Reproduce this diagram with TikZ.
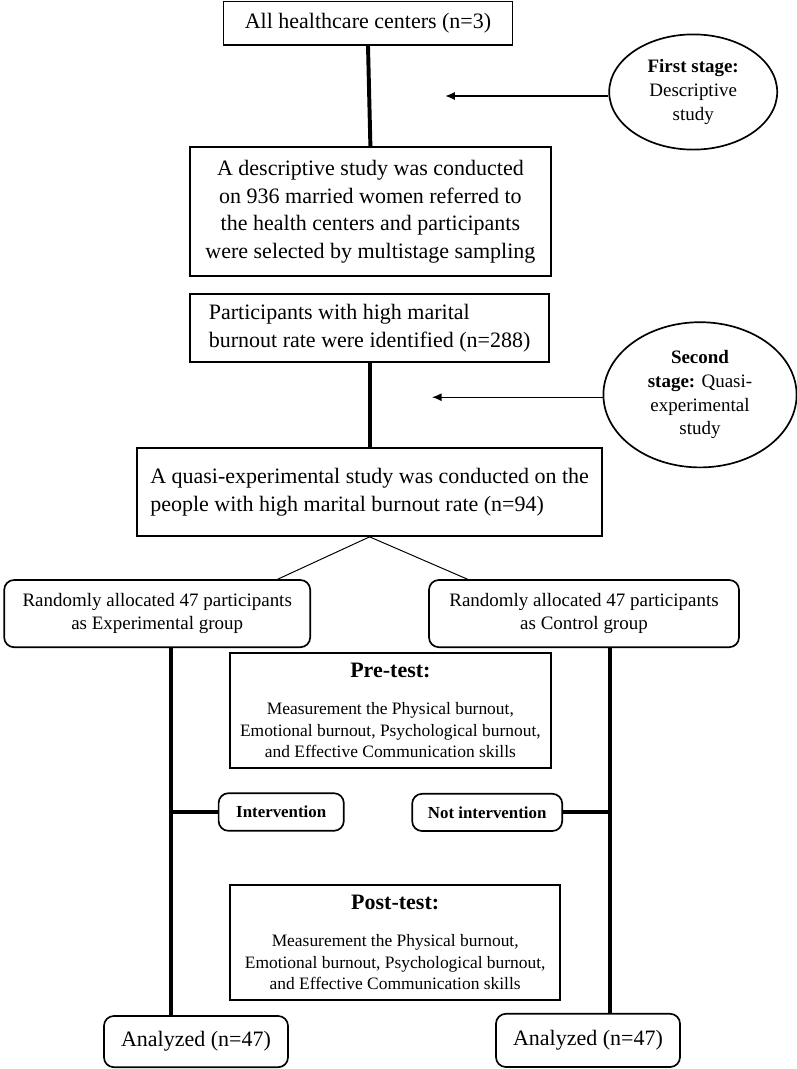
\documentclass[tikz,border=0pt]{standalone}
\usepackage{fontspec}
\setmainfont{Liberation Serif}
\usepackage{tikz}
\usetikzlibrary{shapes,arrows,positioning,calc,arrows.meta}

\begin{document}
\begin{tikzpicture}[
    box/.style={draw, line width=1.2pt, align=center, inner sep=2pt, font=\fontsize{15.65}{19.6}\selectfont},
    rbox/.style={draw, line width=1.2pt, rounded corners=7pt, align=center, inner sep=2pt, font=\fontsize{13.5}{16.7}\selectfont},
    stage/.style={draw, ellipse, line width=1.2pt, align=center, inner sep=0pt, font=\fontsize{13.5}{16.9}\selectfont},
    testbox/.style={draw, line width=1.2pt, align=center, inner sep=2pt, font=\fontsize{12.4}{15.3}\selectfont},
    trunk/.style={line width=2.8pt},
    pointer/.style={line width=0.9pt, -{Latex[length=2.4mm,width=2mm]}}
]
    \useasboundingbox (0,0) rectangle (19.925,-26.725);
    % First stage
    \node[box, minimum width=7.22cm, minimum height=1.08cm] (centers) at (9.2,-0.58) {All healthcare centers (n=3)};
    \node[box, minimum width=9.03cm, minimum height=3.22cm] (descr) at (9.26,-5.29) {A descriptive study was conducted\\ on 936 married women referred to\\ the health centers and participants\\ were selected by multistage sampling};
    \node[stage, minimum width=4.2cm, minimum height=2.88cm] (stage1) at (17.33,-2.3) {\textbf{First stage:}\\ Descriptive\\ study};
    \coordinate (tip1) at (11.13,-2.4);
    \draw[trunk] (centers.south) -- (descr.north);
    \draw[pointer] (stage1.west |- tip1) -- (tip1);
    % Second stage
    \node[box, align=left, minimum width=8.98cm, minimum height=1.7cm] (identified) at (9.24,-8.2) {Participants with high marital\\ burnout rate were identified (n=288)};
    \node[box, align=left, minimum width=11.63cm, minimum height=2.2cm] (quasi) at (9.24,-12.3) {A quasi-experimental study was conducted on the\\ people with high marital burnout rate (n=94)};
    \node[stage, minimum width=4.83cm, minimum height=3.63cm] (stage2) at (17.5,-9.87) {\textbf{Second}\\ \textbf{stage:} Quasi-\\ experimental\\ study};
    \coordinate (tip2) at (10.8,-9.93);
    \draw[trunk] (identified.south) -- (quasi.north);
    \draw[pointer] (stage2.west |- tip2) -- (tip2);
    % Groups
    \node[rbox, minimum width=7.65cm, minimum height=1.68cm] (expgrp) at (3.93,-15.34) {Randomly allocated 47 participants\\ as Experimental group};
    \node[rbox, minimum width=7.75cm, minimum height=1.68cm] (ctrlgrp) at (14.6,-15.34) {Randomly allocated 47 participants\\ as Control group};
    \draw[line width=0.7pt] (quasi.south) -- ($(expgrp.north east)+(-0.83,0)$);
    \draw[line width=0.7pt] (quasi.south) -- ($(ctrlgrp.north west)+(0.98,0)$);
    % Tests
    \node[testbox, minimum width=8.03cm, minimum height=2.88cm] (pretest) at (9.76,-17.76) {{\bfseries\fontsize{15.65}{19.6}\selectfont Pre-test:}\\[11pt] Measurement the Physical burnout,\\ Emotional burnout, Psychological burnout,\\ and Effective Communication skills};
    \node[rbox, font=\bfseries\fontsize{12}{14}\selectfont, minimum width=3.13cm, minimum height=0.94cm] (interv) at (7.03,-20.3) {Intervention};
    \node[rbox, font=\bfseries\fontsize{12}{14}\selectfont, minimum width=3.75cm, minimum height=0.93cm] (notinterv) at (12.18,-20.31) {Not intervention};
    \node[testbox, minimum width=8.25cm, minimum height=2.88cm] (posttest) at (9.88,-23.56) {{\bfseries\fontsize{15.65}{19.6}\selectfont Post-test:}\\[11pt] Measurement the Physical burnout,\\ Emotional burnout, Psychological burnout,\\ and Effective Communication skills};
    % Analysis
    \node[rbox, font=\fontsize{15.65}{19.6}\selectfont, minimum width=4.6cm, minimum height=1.28cm] (analL) at (4.9,-26.04) {Analyzed (n=47)};
    \node[rbox, font=\fontsize{15.65}{19.6}\selectfont, minimum width=4.6cm, minimum height=1.33cm] (analR) at (14.7,-26.01) {Analyzed (n=47)};
    \coordinate (xl) at (4.28,0);
    \coordinate (xr) at (15.25,0);
    \draw[trunk] (expgrp.south -| xl) -- (analL.north -| xl);
    \draw[trunk] (ctrlgrp.south -| xr) -- (analR.north -| xr);
    \draw[trunk] (interv.west) -- (interv.west -| xl);
    \draw[trunk] (notinterv.east) -- (notinterv.east -| xr);
\end{tikzpicture}
\end{document}
